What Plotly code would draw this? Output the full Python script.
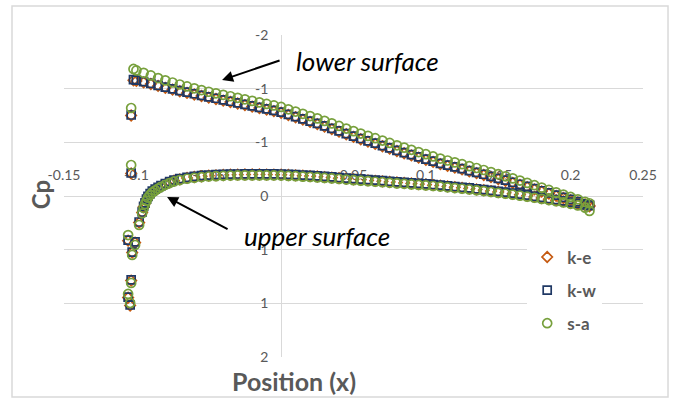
import plotly.graph_objects as go

# ---------------- data ----------------
x_ticks = [-0.15, -0.1, -0.05, 0, 0.05, 0.1, 0.15, 0.2, 0.25]
x_tick_text = ["-0.15", "-0.1", "-0.05", "0", "0.05", "0.1", "0.15", "0.2", "0.25"]
y_ticks = [-2, -4 / 3, -2 / 3, 0, 2 / 3, 4 / 3, 2]
y_tick_text = ["-2", "-1", "-1", "0", "1", "1", "2"]

# leading-edge (nose) points
x_nose = [-0.1036, -0.1036, -0.0981, -0.1057, -0.1009, -0.1029, -0.1036, -0.1057, -0.1043]
cp_nose_ke = [-1.000, -0.280, 0.330, 0.555, 0.578, 0.703, 1.050, 1.262, 1.360]
cp_nose_kw = [-1.006, -0.286, 0.323, 0.547, 0.571, 0.696, 1.043, 1.255, 1.354]
cp_nose_sa = [-1.093, -0.385, 0.360, 0.485, 0.609, 0.733, 1.081, 1.217, 1.329]

# lower surface
x_lower = [-0.102, -0.100, -0.095, -0.090, -0.085, -0.080, -0.075, -0.070, -0.065, -0.060,
           -0.055, -0.050, -0.045, -0.040, -0.035, -0.030, -0.025, -0.020, -0.015, -0.010,
           -0.005, 0.000, 0.005, 0.010, 0.015, 0.020, 0.025, 0.030, 0.035, 0.040,
           0.045, 0.050, 0.055, 0.060, 0.065, 0.070, 0.075, 0.080, 0.085, 0.090,
           0.095, 0.100, 0.105, 0.110, 0.115, 0.120, 0.125, 0.130, 0.135, 0.140,
           0.145, 0.150, 0.155, 0.160, 0.165, 0.170, 0.175, 0.180, 0.185, 0.190,
           0.195, 0.200, 0.205, 0.210, 0.213]
cp_lower_ke = [-1.437, -1.430, -1.411, -1.391, -1.367, -1.344, -1.322, -1.301, -1.281, -1.261,
               -1.242, -1.223, -1.205, -1.186, -1.168, -1.149, -1.130, -1.111, -1.092, -1.073,
               -1.054, -1.034, -1.006, -0.978, -0.950, -0.922, -0.893, -0.862, -0.831, -0.799,
               -0.767, -0.735, -0.705, -0.676, -0.647, -0.618, -0.588, -0.559, -0.531, -0.504,
               -0.477, -0.450, -0.423, -0.397, -0.374, -0.352, -0.330, -0.307, -0.285, -0.261,
               -0.236, -0.211, -0.187, -0.162, -0.137, -0.110, -0.083, -0.056, -0.029, -0.002,
               0.025, 0.052, 0.079, 0.105, 0.118]
cp_lower_kw = [-1.445, -1.438, -1.420, -1.400, -1.375, -1.353, -1.331, -1.310, -1.290, -1.270,
               -1.251, -1.232, -1.214, -1.195, -1.177, -1.158, -1.139, -1.120, -1.101, -1.082,
               -1.063, -1.043, -1.015, -0.987, -0.959, -0.931, -0.902, -0.871, -0.840, -0.808,
               -0.776, -0.744, -0.714, -0.685, -0.656, -0.627, -0.597, -0.568, -0.540, -0.513,
               -0.486, -0.459, -0.432, -0.406, -0.383, -0.361, -0.339, -0.316, -0.294, -0.270,
               -0.245, -0.220, -0.196, -0.171, -0.146, -0.119, -0.092, -0.065, -0.038, -0.011,
               0.016, 0.043, 0.070, 0.097, 0.112]
cp_lower_sa = [-1.578, -1.560, -1.530, -1.498, -1.465, -1.436, -1.410, -1.385, -1.361, -1.338,
               -1.316, -1.295, -1.276, -1.257, -1.239, -1.220, -1.201, -1.182, -1.163, -1.144,
               -1.125, -1.106, -1.077, -1.049, -1.021, -0.993, -0.964, -0.933, -0.902, -0.870,
               -0.838, -0.806, -0.776, -0.747, -0.718, -0.689, -0.659, -0.630, -0.601, -0.574,
               -0.546, -0.519, -0.491, -0.465, -0.441, -0.418, -0.395, -0.371, -0.348, -0.323,
               -0.297, -0.271, -0.245, -0.219, -0.192, -0.163, -0.134, -0.104, -0.075, -0.046,
               -0.017, 0.012, 0.041, 0.072, 0.090]

# upper surface
x_upper = [-0.096, -0.095, -0.094, -0.093, -0.092, -0.0905, -0.089, -0.087, -0.085, -0.083,
           -0.080, -0.077, -0.074, -0.070, -0.065, -0.060, -0.055, -0.050, -0.045, -0.040,
           -0.035, -0.030, -0.025, -0.020, -0.015, -0.010, -0.005, 0.000, 0.005, 0.010,
           0.015, 0.020, 0.025, 0.030, 0.035, 0.040, 0.045, 0.050, 0.055, 0.060,
           0.065, 0.070, 0.075, 0.080, 0.085, 0.090, 0.095, 0.100, 0.105, 0.110,
           0.115, 0.120, 0.125, 0.130, 0.135, 0.140, 0.145, 0.150, 0.155, 0.160,
           0.165, 0.170, 0.175, 0.180, 0.185, 0.190, 0.195, 0.200, 0.205, 0.210, 0.213]
cp_upper_ke = [0.205, 0.138, 0.092, 0.047, 0.012, -0.022, -0.052, -0.077, -0.098, -0.120,
               -0.147, -0.170, -0.190, -0.207, -0.224, -0.236, -0.245, -0.252, -0.257, -0.261,
               -0.264, -0.265, -0.267, -0.267, -0.267, -0.266, -0.266, -0.265, -0.261, -0.257,
               -0.252, -0.247, -0.242, -0.235, -0.229, -0.222, -0.215, -0.208, -0.202, -0.195,
               -0.188, -0.182, -0.175, -0.168, -0.162, -0.155, -0.148, -0.142, -0.135, -0.128,
               -0.119, -0.110, -0.101, -0.092, -0.082, -0.072, -0.061, -0.050, -0.039, -0.027,
               -0.016, -0.003, 0.011, 0.025, 0.039, 0.053, 0.068, 0.084, 0.101, 0.118, 0.128]
cp_upper_kw = [0.199, 0.130, 0.085, 0.040, 0.005, -0.030, -0.060, -0.085, -0.106, -0.128,
               -0.155, -0.178, -0.198, -0.215, -0.232, -0.244, -0.253, -0.260, -0.265, -0.269,
               -0.272, -0.273, -0.275, -0.275, -0.275, -0.274, -0.274, -0.273, -0.269, -0.265,
               -0.260, -0.255, -0.250, -0.243, -0.237, -0.230, -0.223, -0.216, -0.210, -0.203,
               -0.196, -0.190, -0.183, -0.176, -0.170, -0.163, -0.156, -0.150, -0.143, -0.136,
               -0.127, -0.118, -0.109, -0.100, -0.090, -0.080, -0.069, -0.058, -0.047, -0.035,
               -0.024, -0.011, 0.003, 0.017, 0.031, 0.045, 0.060, 0.076, 0.093, 0.110, 0.120]
cp_upper_sa = [0.215, 0.150, 0.100, 0.058, 0.020, -0.014, -0.045, -0.070, -0.092, -0.113,
               -0.139, -0.161, -0.181, -0.198, -0.214, -0.226, -0.235, -0.242, -0.247, -0.251,
               -0.254, -0.255, -0.256, -0.256, -0.256, -0.255, -0.255, -0.254, -0.250, -0.246,
               -0.241, -0.236, -0.231, -0.224, -0.218, -0.211, -0.204, -0.197, -0.191, -0.184,
               -0.177, -0.171, -0.164, -0.157, -0.151, -0.144, -0.137, -0.131, -0.124, -0.117,
               -0.108, -0.099, -0.090, -0.081, -0.071, -0.061, -0.050, -0.039, -0.028, -0.016,
               -0.005, 0.008, 0.022, 0.036, 0.050, 0.064, 0.080, 0.097, 0.117, 0.145, 0.185]

series_names = ["k-e", "k-w", "s-a"]
series_colors = ["#C55A11", "#1F3864", "#77A03C"]
series_symbols = ["diamond-open", "square-open", "circle-open"]
series_sizes = [8, 8, 9]

# ---------------- figure ----------------
FONT = "Lato"
GRID = "#d9d9d9"
TXT = "#595959"

fig = go.Figure()
cps = [
    (cp_nose_ke, cp_lower_ke, cp_upper_ke),
    (cp_nose_kw, cp_lower_kw, cp_upper_kw),
    (cp_nose_sa, cp_lower_sa, cp_upper_sa),
]
xs = x_nose + x_lower + x_upper
for i, name in enumerate(series_names):
    nose, low, up = cps[i]
    fig.add_trace(go.Scatter(
        x=xs, y=nose + low + up, mode="markers", name=name,
        legendgroup=name,
        marker=dict(symbol=series_symbols[i], size=series_sizes[i],
                    color=series_colors[i], line=dict(width=1.7, color=series_colors[i])),
    ))

fig.update_layout(
    width=677, height=399,
    margin=dict(l=64, r=34, t=35, b=42),
    paper_bgcolor="white", plot_bgcolor="white",
    font=dict(family=FONT, color=TXT),
    showlegend=True,
    legend=dict(x=0.80, y=0.365, xanchor="left", yanchor="top",
                bgcolor="white", tracegroupgap=8,
                font=dict(family=FONT, size=17, color=TXT, weight="bold")),
    xaxis=dict(range=[-0.15, 0.25], tickvals=x_ticks, ticktext=x_tick_text,
               anchor="free", position=0.5, side="top",
               showgrid=False, zeroline=False, showline=True, linecolor=GRID, linewidth=1,
               ticks="", ticklabelstandoff=10, layer="below traces",
               tickfont=dict(family=FONT, size=14, color=TXT)),
    yaxis=dict(range=[2, -2], tickvals=y_ticks, ticktext=y_tick_text,
               anchor="free", position=0.375, side="left",
               showgrid=True, gridcolor=GRID, gridwidth=1, zeroline=False,
               showline=True, linecolor=GRID, linewidth=1,
               ticks="", ticklabelstandoff=10, layer="below traces",
               tickfont=dict(family=FONT, size=14, color=TXT)),
)

# chart-area border
fig.add_shape(type="rect", xref="paper", yref="paper",
              x0=-0.0898, x1=1.0432, y0=-0.1242, y1=1.090,
              line=dict(color=GRID, width=1.5), fillcolor="rgba(0,0,0,0)", layer="below")

# axis titles
fig.add_annotation(text="Cp", xref="paper", yref="paper", x=-0.041, y=0.503,
                   xanchor="center", yanchor="middle",
                   textangle=-90, showarrow=False,
                   font=dict(family=FONT, size=24, color=TXT, weight="bold"))
fig.add_annotation(text="Position (x)", xref="paper", yref="paper", x=0.397, y=-0.075,
                   xanchor="center", yanchor="middle", showarrow=False,
                   font=dict(family=FONT, size=25, color=TXT, weight="bold"))

# labels with arrows
fig.add_annotation(text="<i>lower surface</i>", x=0.0594, y=-1.677, showarrow=False,
                   xanchor="center", yanchor="middle",
                   font=dict(family=FONT, size=26, color="black"))
fig.add_annotation(text="<i>upper surface</i>", x=0.0249, y=0.497, showarrow=False,
                   xanchor="center", yanchor="middle",
                   font=dict(family=FONT, size=26, color="black"))
fig.add_annotation(text="", x=-0.0408, y=-1.441, ax=59, ay=-20, showarrow=True,
                   arrowhead=2, arrowsize=1.1, arrowwidth=2, arrowcolor="black")
fig.add_annotation(text="", x=-0.0788, y=0.012, ax=62, ay=33, showarrow=True,
                   arrowhead=2, arrowsize=1.1, arrowwidth=2, arrowcolor="black")

fig.write_html("out.html", config={"displayModeBar": False},
               post_script="document.body.style.margin='0';")
